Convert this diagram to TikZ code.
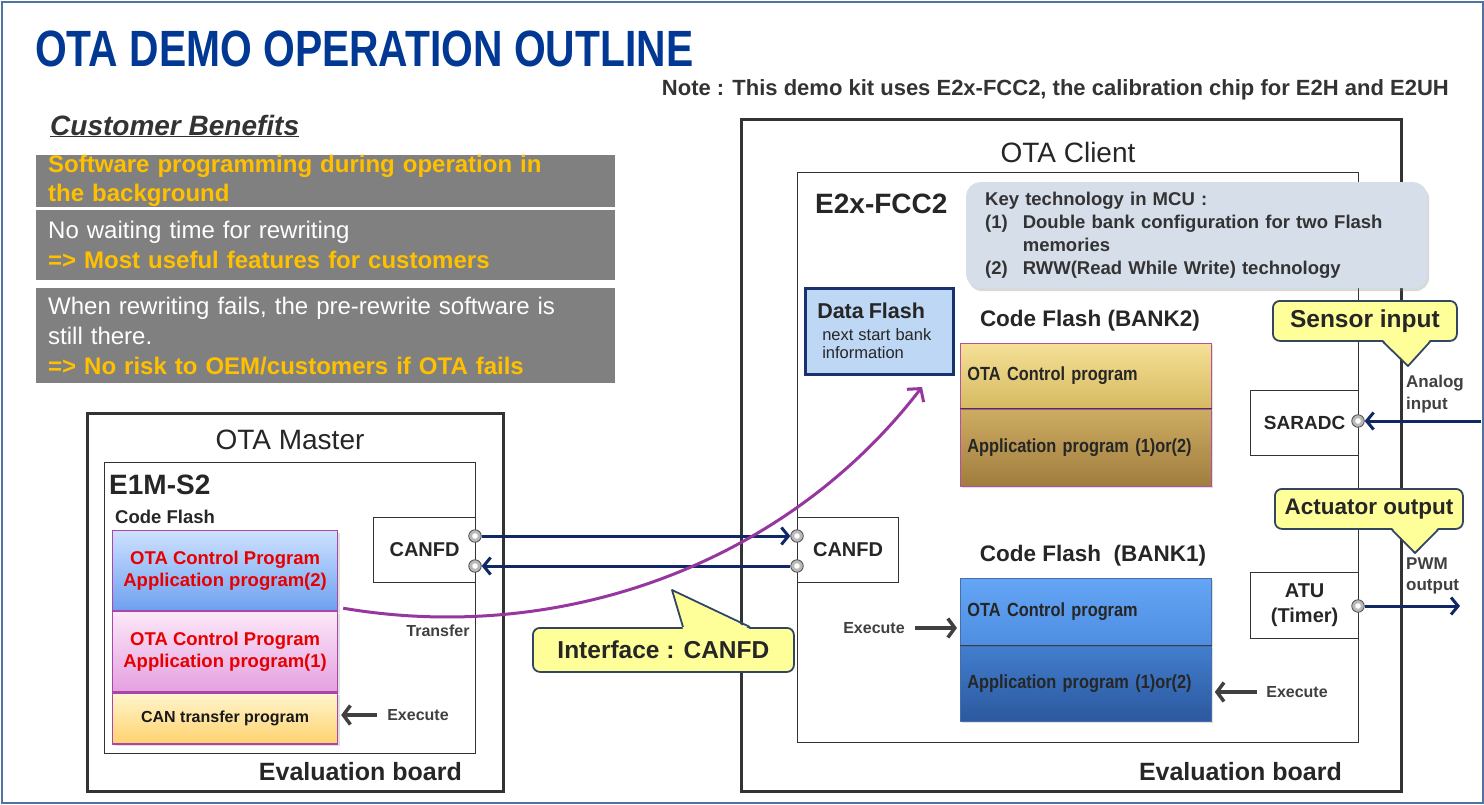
\documentclass[tikz,border=0pt]{standalone}
\usepackage{fontspec}
\setmainfont{Liberation Sans}
\newfontfamily\narrowfont[FakeStretch=0.86]{Liberation Sans}
\newfontfamily\titlefont[FakeStretch=0.80]{Liberation Sans}
\usetikzlibrary{
    positioning,
    arrows.meta,
    shadows,
    calc
}

\definecolor{framecol}{RGB}{80,115,160}
\definecolor{titleblue}{RGB}{0,56,147}
\definecolor{benefitgray}{RGB}{128,128,128}
\definecolor{benefityellow}{RGB}{255,192,0}
\definecolor{navy}{RGB}{16,40,100}
\definecolor{curvepurple}{RGB}{150,55,160}
\definecolor{calloutfill}{RGB}{255,255,153}
\definecolor{calloutline}{RGB}{50,70,100}
\definecolor{keyfill}{RGB}{214,222,234}
\definecolor{dataflashfill}{RGB}{190,215,245}
\definecolor{dataflashline}{RGB}{25,50,110}
\definecolor{masterborder}{RGB}{170,70,170}
\definecolor{masterred}{RGB}{230,0,0}
\definecolor{bankline}{RGB}{60,60,70}

\begin{document}
\begin{tikzpicture}[
    x=1pt, y=-1pt,
    font=\fontsize{15}{18}\selectfont,
    node distance=6pt and 10pt,
    board/.style={
        rectangle, draw=black!80, line width=3pt, anchor=north west, inner sep=0pt
    },
    chip/.style={
        rectangle, draw=black!80, line width=1.3pt, anchor=north west, inner sep=0pt
    },
    periph/.style={
        rectangle, draw=black!80, line width=1.2pt, fill=white, anchor=north west,
        align=center, inner sep=0pt, text=black!85,
        font=\fontsize{19}{23}\selectfont\bfseries
    },
    benefit/.style={
        rectangle, fill=benefitgray, anchor=north west, minimum width=579pt,
        text width=555pt, inner xsep=12pt, inner ysep=0pt, align=left, text=white,
        font=\fontsize{24}{30}\selectfont
    },
    masterseg/.style={
        rectangle, draw=masterborder, line width=1.2pt, minimum width=225pt,
        align=center, text=masterred, inner sep=0pt,
        font=\fontsize{18.5}{22}\selectfont\bfseries,
        drop shadow={opacity=0.25, shadow xshift=2pt, shadow yshift=-2pt}
    },
    bankseg/.style={
        rectangle, draw=bankline, line width=0.8pt, minimum width=251pt,
        text width=237pt, inner xsep=7pt, inner ysep=0pt, align=left, text=black!85,
        font=\narrowfont\fontsize{19}{23}\selectfont\bfseries,
        drop shadow={opacity=0.25, shadow xshift=2pt, shadow yshift=-2pt}
    },
    bubble/.style={
        rectangle, draw=calloutline, line width=1.8pt, fill=calloutfill,
        rounded corners=7pt, inner sep=0pt, text=black!85,
        font=\fontsize{24.5}{28}\selectfont\bfseries
    },
    bubbletip/.style={fill=calloutfill, draw=none},
    bubbleedge/.style={draw=calloutline, line width=1.8pt, line join=round},
    port/.style={
        circle, draw=black!70, line width=0.8pt, fill=gray!55, minimum size=12.5pt,
        inner sep=0pt,
        path picture={\fill[white] (path picture bounding box.center) circle (2.8pt);}
    },
    boardtitle/.style={font=\fontsize{28}{32}\selectfont, text=black!85, inner sep=0pt},
    chiptitle/.style={font=\fontsize{28}{32}\selectfont\bfseries, text=black!85, inner sep=0pt},
    boardname/.style={font=\fontsize{25}{30}\selectfont\bfseries, text=black!85, inner sep=0pt},
    flashtitle/.style={font=\fontsize{22.5}{26}\selectfont\bfseries, text=black!85, inner sep=0pt},
    smalllabel/.style={
        font=\fontsize{16}{21}\selectfont\bfseries, text=black!75,
        inner sep=0pt, align=left
    },
    busarrow/.style={navy, line width=3pt, -{Straight Barb[length=7pt, width=17pt]}},
    execarrow/.style={black!75, line width=3.5pt, -{Straight Barb[length=7pt, width=19pt]}},
    curvearrow/.style={curvepurple, line width=3pt, -{Straight Barb[length=9pt, width=21pt]}}
]
\useasboundingbox (0,0) rectangle (1484,804);
\draw[framecol, line width=2pt] (1.5,1.5) rectangle (1482.5,802.5);

% Heading and note
\node[anchor=base west, inner sep=0pt, text=titleblue,
      font=\titlefont\fontsize{51}{56}\selectfont\bfseries] (title) at (35,66)
    {OTA DEMO OPERATION OUTLINE};
\node[anchor=base east, inner sep=0pt, text=black!80,
      font=\fontsize{22}{26}\selectfont\bfseries] (note) at (1449,95)
    {Note : This demo kit uses E2x-FCC2, the calibration chip for E2H and E2UH};

% Customer benefits
\node[anchor=base west, inner sep=0pt, text=black!80,
      font=\fontsize{28}{32}\selectfont\bfseries\itshape] (benefits) at (50,135)
    {\underline{Customer Benefits}};
\node[benefit, minimum height=47pt, text=benefityellow, font=\fontsize{24}{29}\selectfont\bfseries]
    (ben_bg) at (36,155)
    {Software programming during operation in\\the background};
\node[benefit, minimum height=70pt] (ben_wait) at (36,210)
    {No waiting time for rewriting\\
     \textcolor{benefityellow}{\bfseries => Most useful features for customers}};
\node[benefit, minimum height=95pt] (ben_fail) at (36,288)
    {When rewriting fails, the pre-rewrite software is\\still there.\\
     \textcolor{benefityellow}{\bfseries => No risk to OEM/customers if OTA fails}};

% ------------------------------- OTA Master ----------------------------------
\node[board, minimum width=416pt, minimum height=378pt] (masterboard) at (86,412) {};
\node[boardtitle] (mastertitle) at (290,440) {OTA Master};
\node[chip, minimum width=371pt, minimum height=291pt] (e1m) at (104,462) {};
\node[chiptitle, anchor=base west] (e1m_name) at (109,494) {E1M-S2};
\node[anchor=base west, inner sep=0pt, text=black!85,
      font=\fontsize{18.5}{22}\selectfont\bfseries] (m_codeflash) at (115,523) {Code Flash};

\node[masterseg, minimum height=80pt, top color={rgb,255:red,205;green,225;blue,255},
      bottom color={rgb,255:red,110;green,160;blue,240}, anchor=north west]
    (m_app2) at (112,530) {OTA Control Program\\Application program(2)};
\node[masterseg, minimum height=80pt, top color={rgb,255:red,252;green,232;blue,248},
      bottom color={rgb,255:red,228;green,160;blue,225}, below=0pt of m_app2]
    (m_app1) {OTA Control Program\\Application program(1)};
\node[masterseg, minimum height=51pt, top color={rgb,255:red,255;green,245;blue,205},
      bottom color={rgb,255:red,255;green,210;blue,110}, text=black!90,
      font=\fontsize{16}{20}\selectfont\bfseries, below=0pt of m_app1]
    (m_can) {CAN transfer program};

\node[periph, minimum width=102pt, minimum height=65pt, font=\fontsize{20}{24}\selectfont\bfseries]
    (m_canfd) at (373,517) {CANFD};
\node[smalllabel] (m_transfer) at (438,631) {Transfer};
\node[smalllabel, inner xsep=10pt] (m_exec) at (418,715) {Execute};
\node[boardname, anchor=base east] (m_eval) at (462,780) {Evaluation board};

% ------------------------------- OTA Client ----------------------------------
\node[board, minimum width=660pt, minimum height=672pt] (clientboard) at (740,118) {};
\node[boardtitle] (clienttitle) at (1068,152) {OTA Client};
\node[chip, minimum width=561pt, minimum height=570pt] (e2x) at (797,172) {};
\node[chiptitle, anchor=base west] (e2x_name) at (815,213) {E2x-FCC2};

\node[rectangle, rounded corners=14pt, fill=keyfill, anchor=north west,
      minimum width=461pt, minimum height=106pt, text width=423pt, inner xsep=19pt,
      inner ysep=0pt, align=left, text=black!80,
      font=\fontsize{18.5}{23}\selectfont\bfseries,
      drop shadow={opacity=0.3, shadow xshift=2pt, shadow yshift=-3pt}]
    (keytech) at (966,182)
    {\begin{tabular}{@{}l@{\hspace{15pt}}l@{}}
     \multicolumn{2}{@{}l}{Key technology in MCU :}\\
     (1) & Double bank configuration for two Flash\\
         & memories\\
     (2) & RWW(Read While Write) technology
     \end{tabular}};

\node[rectangle, draw=dataflashline, line width=2.5pt, fill=dataflashfill,
      anchor=north west, minimum width=148pt, minimum height=86pt, text width=134pt,
      inner xsep=7pt, inner ysep=0pt, align=left, text=black!85]
    (dataflash) at (804,287)
    {{\fontsize{21.5}{24}\selectfont\bfseries\ Data Flash}\\[1pt]
     {\fontsize{16.5}{21}\selectfont\ \ next start bank\\\ \ information}};

\node[flashtitle] (b2_title) at (1090,321) {Code Flash (BANK2)};
\node[bankseg, minimum height=65pt, top color={rgb,255:red,245;green,224;blue,150},
      bottom color={rgb,255:red,214;green,186;blue,98}, anchor=north west,
      draw={rgb,255:red,180;green,80;blue,160}]
    (b2_ctrl) at (960,343) {OTA Control program};
\node[bankseg, minimum height=77pt, top color={rgb,255:red,205;green,172;blue,98},
      bottom color={rgb,255:red,160;green,125;blue,62}, below=0pt of b2_ctrl,
      draw={rgb,255:red,180;green,80;blue,160}]
    (b2_app) {Application program (1)or(2)};
\draw[bankline, line width=0.8pt] (b2_ctrl.south west) -- (b2_ctrl.south east);

\node[flashtitle] (b1_title) at (1093,556) {Code Flash\ \ (BANK1)};
\node[bankseg, minimum height=67pt, top color={rgb,255:red,100;green,165;blue,245},
      bottom color={rgb,255:red,78;green,142;blue,226}, anchor=north west,
      draw={rgb,255:red,70;green,110;blue,170}]
    (b1_ctrl) at (960,578) {OTA Control program};
\node[bankseg, minimum height=75pt, top color={rgb,255:red,66;green,126;blue,206},
      bottom color={rgb,255:red,44;green,88;blue,158}, below=0pt of b1_ctrl,
      draw={rgb,255:red,70;green,110;blue,170}]
    (b1_app) {Application program (1)or(2)};
\draw[bankline, line width=0.8pt] (b1_ctrl.south west) -- (b1_ctrl.south east);

\node[periph, minimum width=101pt, minimum height=65pt, font=\fontsize{20}{24}\selectfont\bfseries]
    (c_canfd) at (797,517) {CANFD};
\node[periph, minimum width=108pt, minimum height=65pt] (saradc) at (1250,390) {SARADC};
\node[periph, minimum width=108pt, minimum height=66pt, font=\fontsize{20}{25}\selectfont\bfseries]
    (atu) at (1250,572) {ATU\\(Timer)};

\node[smalllabel, inner xsep=10pt] (c_exec1) at (874,628) {Execute};
\node[smalllabel, inner xsep=9pt] (c_exec2) at (1297,692) {Execute};
\node[smalllabel, anchor=north west, font=\fontsize{17}{22}\selectfont\bfseries]
    (analog) at (1406,375) {Analog\\input};
\node[smalllabel, anchor=north west, font=\fontsize{17}{21}\selectfont\bfseries]
    (pwm) at (1406,558) {PWM\\output};
\node[boardname, anchor=base east] (c_eval) at (1342,780) {Evaluation board};

% Callouts
\node[bubble, anchor=north west, minimum width=184pt, minimum height=40pt]
    (sensor) at (1272,300) {Sensor input};
\node[bubble, anchor=north west, minimum width=188pt, minimum height=40pt,
      font=\fontsize{22.5}{26}\selectfont\bfseries]
    (actuator) at (1274,488) {Actuator output};
\node[bubble, anchor=north west, minimum width=261pt, minimum height=44pt]
    (iface) at (532,627) {Interface : CANFD};
\coordinate (sensor_tip) at (1408,366);
\coordinate (actuator_tip) at (1415,553);
\coordinate (iface_tip) at (672,590);

\fill[bubbletip] ($(sensor.south west)+(111pt,2pt)$) -- (sensor_tip) -- ($(sensor.south west)+(158pt,2pt)$) -- cycle;
\draw[bubbleedge] ($(sensor.south west)+(111pt,0pt)$) -- (sensor_tip) -- ($(sensor.south west)+(158pt,0pt)$);
\fill[bubbletip] ($(actuator.south west)+(118pt,2pt)$) -- (actuator_tip) -- ($(actuator.south west)+(164pt,2pt)$) -- cycle;
\draw[bubbleedge] ($(actuator.south west)+(118pt,0pt)$) -- (actuator_tip) -- ($(actuator.south west)+(164pt,0pt)$);
\fill[bubbletip] ($(iface.north west)+(151pt,-2pt)$) -- (iface_tip) -- ($(iface.north west)+(218pt,-2pt)$) -- cycle;
\draw[bubbleedge] ($(iface.north west)+(151pt,0pt)$) -- (iface_tip) -- ($(iface.north west)+(218pt,0pt)$);

% ------------------------------- Ports ---------------------------------------
\node[port] (m_tx) at (475,536) {};
\node[port] (m_rx) at (475,566) {};
\node[port] (c_rx) at (797,536) {};
\node[port] (c_tx) at (797,566) {};
\node[port] (saradc_p) at (1358,421) {};
\node[port] (atu_p) at (1358,606) {};
\coordinate (analog_src) at (1481,421);
\coordinate (pwm_dst) at (1460,606);
\coordinate (curve_end) at (922,387);

% ------------------------------- Arrows --------------------------------------
\draw[busarrow] (m_tx) -- (c_rx);
\draw[busarrow] (c_tx) -- (m_rx);
\draw[busarrow] (analog_src) -- (saradc_p);
\draw[busarrow] (atu_p) -- (pwm_dst);

\draw[execarrow] (m_exec.west) -- ([xshift=3pt]m_exec.west -| m_can.east);
\draw[execarrow] (c_exec1.east) -- ([xshift=-3pt]c_exec1.east -| b1_ctrl.west);
\draw[execarrow] (c_exec2.west) -- ([xshift=3pt]c_exec2.west -| b1_app.east);

\draw[curvearrow] ([xshift=5pt, yshift=3pt]m_app2.south east)
    .. controls (560,645) and (785,565) .. (curve_end);

\end{tikzpicture}
\end{document}
